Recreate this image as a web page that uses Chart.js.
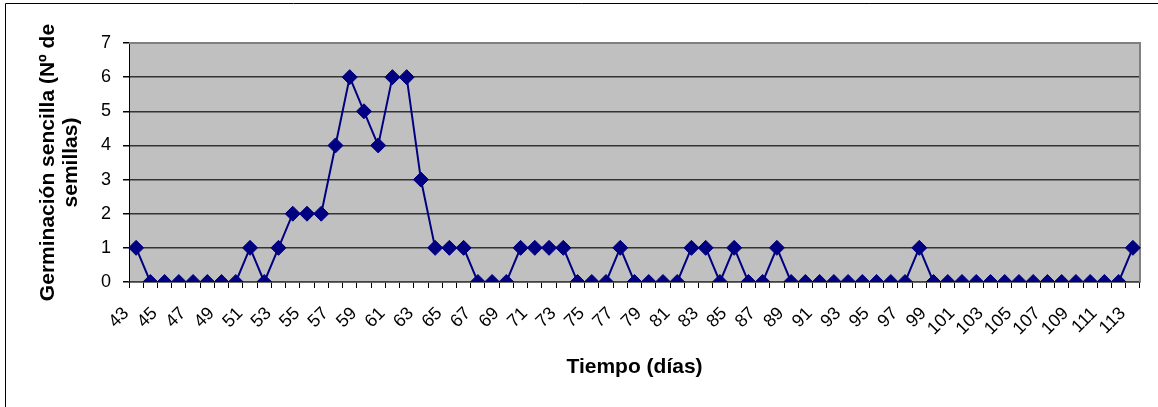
<!DOCTYPE html>
<html>
<head>
<meta charset="utf-8">
<script src="https://cdn.jsdelivr.net/npm/chart.js@4/dist/chart.umd.min.js"></script>
<style>
  html, body { margin: 0; padding: 0; background: #fff; }
  #wrap { width: 1158px; height: 407px; }
</style>
</head>
<body>
<div id="wrap"><canvas id="c" width="1158" height="407"></canvas></div>
<script>
// Días de observación (43 a 113)
const dias = [
  43, 44, 45, 46, 47, 48, 49, 50, 51, 52, 53, 54, 55, 56, 57, 58, 59, 60,
  61, 62, 63, 64, 65, 66, 67, 68, 69, 70, 71, 72, 73, 74, 75, 76, 77, 78,
  79, 80, 81, 82, 83, 84, 85, 86, 87, 88, 89, 90, 91, 92, 93, 94, 95, 96,
  97, 98, 99, 100, 101, 102, 103, 104, 105, 106, 107, 108, 109, 110, 111, 112, 113
];

// Semillas germinadas por día
const germinacion = [
  1, 0, 0, 0, 0, 0, 0, 0, 1, 0, 1, 2, 2, 2, 4, 6, 5, 4,
  6, 6, 3, 1, 1, 1, 0, 0, 0, 1, 1, 1, 1, 0, 0, 0, 1, 0,
  0, 0, 0, 1, 1, 0, 1, 0, 0, 1, 0, 0, 0, 0, 0, 0, 0, 0,
  0, 1, 0, 0, 0, 0, 0, 0, 0, 0, 0, 0, 0, 0, 0, 0, 1
];

const yTicks = [0, 1, 2, 3, 4, 5, 6, 7];

const tituloY = ['Germinación sencilla (Nº de', 'semillas)'];
const tituloX = 'Tiempo (días)';

// Fondo gris del área de trazado, marco exterior y borde del área
const marcos = {
  id: 'marcos',
  beforeDraw(chart) {
    const { ctx, chartArea: a } = chart;
    ctx.save();
    ctx.fillStyle = '#ffffff';
    ctx.fillRect(0, 0, chart.width, chart.height);
    ctx.strokeStyle = '#000000';
    ctx.lineWidth = 1;
    ctx.beginPath();
    ctx.moveTo(5.5, chart.height);
    ctx.lineTo(5.5, 3.5);
    ctx.lineTo(chart.width, 3.5);
    ctx.stroke();
    ctx.fillStyle = '#c0c0c0';
    ctx.fillRect(a.left, a.top, a.right - a.left, a.bottom - a.top);
    ctx.restore();
  },
  beforeDatasetsDraw(chart) {
    const { ctx, chartArea: a } = chart;
    ctx.save();
    ctx.strokeStyle = '#808080';
    ctx.lineWidth = 2;
    ctx.beginPath();
    ctx.moveTo(a.left, a.top);
    ctx.lineTo(a.right, a.top);
    ctx.lineTo(a.right, a.bottom);
    ctx.stroke();
    ctx.restore();
  }
};

const fuente = "Arial, 'Liberation Sans', sans-serif";

new Chart(document.getElementById('c'), {
  type: 'line',
  data: {
    labels: dias,
    datasets: [{
      data: germinacion,
      borderColor: '#000080',
      backgroundColor: '#000080',
      borderWidth: 2,
      tension: 0,
      pointStyle: 'rectRot',
      pointRadius: 7.5,
      pointHoverRadius: 7.5,
      pointBackgroundColor: '#000080',
      pointBorderColor: '#000080',
      pointBorderWidth: 1
    }]
  },
  options: {
    responsive: false,
    animation: false,
    events: [],
    layout: { padding: { left: 5, top: 43, right: 18, bottom: 0 } },
    plugins: {
      legend: { display: false },
      tooltip: { enabled: false }
    },
    scales: {
      x: {
        type: 'category',
        offset: true,
        afterFit(scale) {
          scale.height = 125;
          scale.paddingLeft = 0;
          scale.paddingRight = 0;
        },
        border: { display: true, color: '#404040', width: 1.5 },
        grid: {
          display: true,
          offset: true,
          drawOnChartArea: false,
          drawTicks: true,
          tickLength: 6,
          tickColor: '#000000'
        },
        ticks: {
          autoSkip: false,
          minRotation: 45,
          maxRotation: 45,
          padding: 15,
          labelOffset: -10,
          color: '#000000',
          font: { family: fuente, size: 18 },
          callback(value, index) {
            return index % 2 === 0 ? this.getLabelForValue(value) : '';
          }
        },
        title: {
          display: true,
          text: tituloX,
          color: '#000000',
          font: { family: fuente, size: 21, weight: 'bold', lineHeight: 1.1 },
          padding: { top: 0, bottom: 28 }
        }
      },
      y: {
        min: 0,
        max: 7,
        afterFit(scale) { scale.width = 124; },
        afterBuildTicks(scale) { scale.ticks = yTicks.map(v => ({ value: v })); },
        border: { display: true, color: '#000000', width: 1 },
        grid: {
          color: ctx => (ctx.tick && ctx.tick.value === 7) ? 'rgba(0,0,0,0)' : '#333333',
          lineWidth: 1.5,
          drawTicks: true,
          tickLength: 6,
          tickColor: '#000000'
        },
        ticks: {
          padding: 12,
          color: '#000000',
          font: { family: fuente, size: 18 }
        },
        title: {
          display: true,
          text: tituloY,
          color: '#000000',
          font: { family: fuente, size: 21, weight: 'bold', lineHeight: 1.1 },
          padding: { top: 32, bottom: 0 }
        }
      }
    }
  },
  plugins: [marcos]
});
</script>
</body>
</html>
